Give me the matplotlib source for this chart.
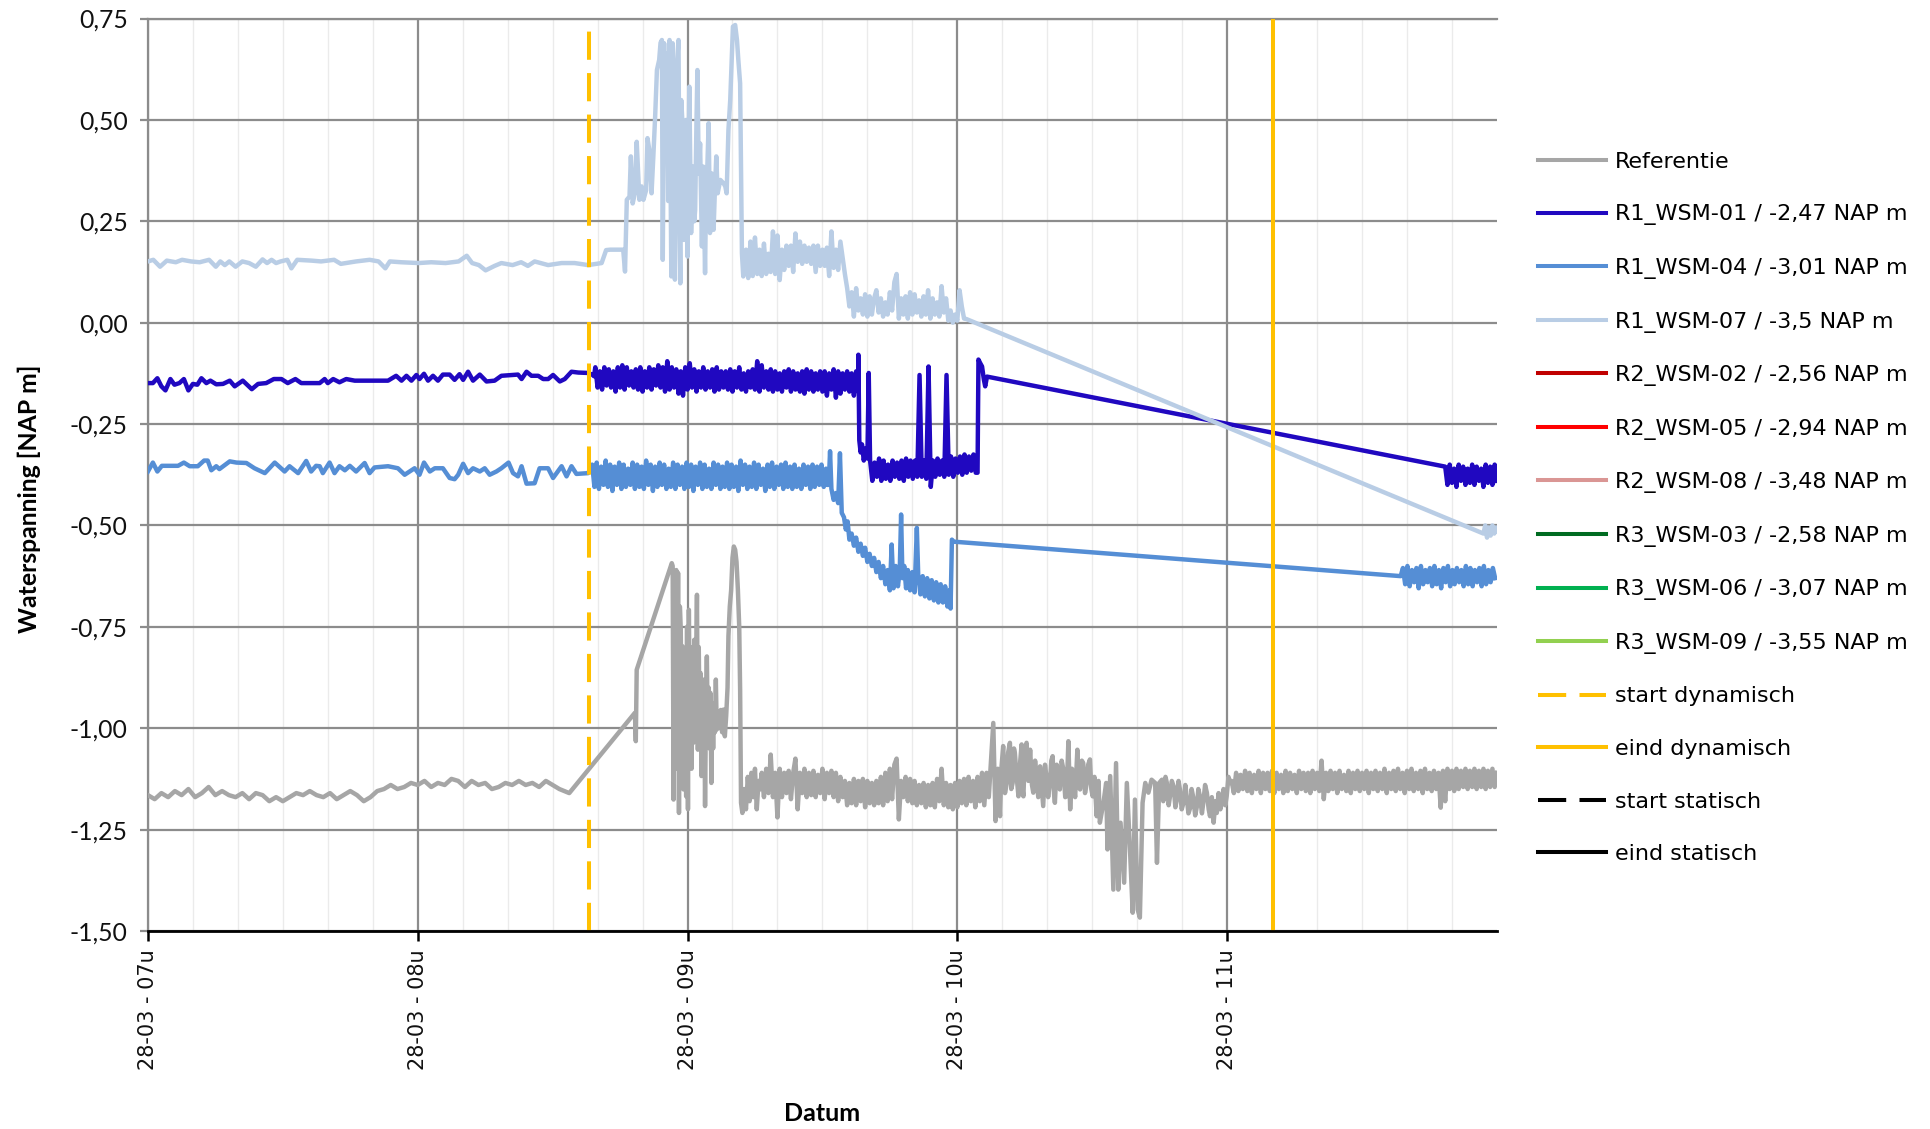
import numpy as np
import matplotlib
matplotlib.use("Agg")
import matplotlib.pyplot as plt
import matplotlib.dates as mdates
from matplotlib.lines import Line2D
from matplotlib.ticker import FixedLocator, FuncFormatter
import datetime as dt

# ---------------- DATA (time in minutes after 28-03 07:00, values in m NAP) ----------------
# Referentie
ref_early = [(0,-1.165),(1.5,-1.175),(3,-1.16),(4.5,-1.17),(6,-1.155),(7.5,-1.165),(9,-1.15),(10.5,-1.17),(12,-1.16),(13.5,-1.145),
             (15,-1.165),(16.5,-1.155),(18,-1.165),(19.5,-1.17),(21,-1.16),(22.5,-1.175),(24,-1.16),(25.5,-1.165),(27,-1.18),(28.5,-1.17),
             (30,-1.18),(31.5,-1.17),(33,-1.16),(34.5,-1.165),(36,-1.155),(37.5,-1.165),(39,-1.17),(40.5,-1.16),(42,-1.175),(43.5,-1.165),
             (45,-1.155),(46.5,-1.165),(48,-1.18),(49.5,-1.17),(51,-1.155),(52.5,-1.15),(54,-1.14),(55.5,-1.15),(57,-1.145),(58.5,-1.135),
             (60,-1.14),(61.5,-1.13),(63,-1.145),(64.5,-1.135),(66,-1.14),(67.5,-1.125),(69,-1.13),(70.5,-1.145),(72,-1.13),(73.5,-1.14),
             (75,-1.135),(76.5,-1.15),(78,-1.145),(79.5,-1.135),(81,-1.14),(82.5,-1.13),(84,-1.14),(85.5,-1.135),(87,-1.145),(88.5,-1.13),
             (90,-1.14),(91.5,-1.15),(93.7,-1.16)]
ref_burst = [(108.3,-0.962),(108.5,-1.032),(108.7,-0.856),(116.5,-0.593),(116.7,-0.60),(116.9,-1.176),(117.1,-0.62),(117.3,-0.95),
             (117.5,-0.61),(117.7,-1.10),(117.9,-0.617),(118.1,-1.209),(118.3,-0.70),(118.5,-0.757),(118.7,-1.05),(118.9,-0.798),
             (119.1,-1.151),(119.3,-0.90),(119.5,-0.823),(119.7,-1.168),(119.9,-0.75),(120.1,-1.20),(120.3,-0.708),(120.5,-0.95),
             (120.7,-0.80),(120.9,-1.10),(121.1,-0.85),(121.3,-1.036),(121.5,-0.782),(121.7,-0.98),(121.9,-0.85),(122.1,-0.671),
             (122.3,-1.053),(122.5,-0.80),(122.7,-1.00),(122.9,-0.864),(123.1,-1.118),(123.3,-0.90),(123.5,-0.98),(123.7,-0.88),
             (123.9,-1.192),(124.1,-0.95),(124.3,-0.823),(124.5,-1.003),(124.7,-0.90),(124.9,-1.05),(125.1,-0.913),(125.3,-1.135),
             (125.5,-0.94),(125.7,-1.05),(125.9,-0.938),(126.1,-1.01),(126.3,-0.880),(126.5,-1.003),(126.8,-0.96),(127.1,-1.00),
             (127.4,-0.955),(127.7,-1.01),(128.0,-0.954),(128.3,-1.020),(128.6,-0.97),(128.9,-0.90),(129.1,-0.773),(129.4,-0.70),
             (129.7,-0.66),(130.0,-0.58),(130.3,-0.552),(130.6,-0.56),(130.9,-0.59),(131.2,-0.658),(131.5,-0.75),(131.7,-0.905),
             (131.9,-1.184),(132.2,-1.209),(132.6,-1.15),(133.0,-1.20),(133.4,-1.12),(133.8,-1.18),(134.2,-1.11),(134.6,-1.17),
             (135.0,-1.10),(135.4,-1.20),(135.8,-1.13),(136.1,-1.151)]
ref_bandA_start = 136.5   # logged every 0.5 min, values in cm
ref_bandA_cm = [-111,-117,-110,-116,-106.5,-117,-111,-122,-110,-117,
                -111,-116,-110.5,-117.5,-111,-107.5,-120,-111,-116,-110,
                -117,-111,-116.5,-110.5,-117,-111.5,-116,-110,-117.5,-111,
                -116,-110.5,-117,-111,-118,-112,-117,-113,-119,-113.5,
                -118.5,-112.5,-119,-113,-118,-112.5,-119.5,-113,-118.5,-113.5,
                -119,-113,-118.5,-112,-119,-111,-118,-110,-117.5,-109,
                -107.5,-122.5,-113,-117,-112,-118,-112.5,-118.5,-113,-119,
                -114,-118.5,-113.5,-119.5,-114,-119,-113.5,-119.5,-112.5,-118,
                -110,-119,-113.5,-119.5,-114,-120,-113.5,-119.5,-113,-118.5,
                -112.5,-119,-112,-118,-113,-119.5,-112,-118,-111,-119,
                -111,-117,-108,-98.7,-122.9,-110]
ref_mid = [(189.5,-1.217),(189.8,-1.10),(190.2,-1.044),(190.6,-1.16),(191.0,-1.135),(191.3,-1.06),(191.7,-1.036),(192.0,-1.15),
           (192.3,-1.135),(192.6,-1.05),(192.8,-1.061),(193.2,-1.12),(193.6,-1.168),(194.0,-1.08),(194.3,-1.040),(194.5,-1.15),
           (194.7,-1.168),(195.0,-1.07),(195.4,-1.036),(195.8,-1.13),(196.2,-1.053),(196.6,-1.14),(196.9,-1.159),(197.3,-1.08),
           (197.7,-1.127),(198.0,-1.17),(198.4,-1.094),(198.8,-1.15),(199.1,-1.192),(199.5,-1.09),(199.9,-1.127),(200.2,-1.17),
           (200.6,-1.135),(200.9,-1.08),(201.2,-1.069),(201.5,-1.16),(201.7,-1.184),(202.1,-1.09),(202.5,-1.118),(202.8,-1.151),
           (203.2,-1.08),(203.6,-1.102),(204.0,-1.17),(204.3,-1.168),(204.7,-1.032),(205.1,-1.200),(205.5,-1.10),(205.8,-1.127),
           (206.2,-1.17),(206.7,-1.053),(207.0,-1.14),(207.3,-1.151),(207.7,-1.08),(208.0,-1.086),(208.4,-1.16),(208.8,-1.135),
           (209.1,-1.09),(209.5,-1.077),(209.8,-1.15),(210.1,-1.168),(210.5,-1.12),(211.0,-1.217),(211.4,-1.13),(211.7,-1.233),
           (212.5,-1.184),(213.1,-1.135),(213.4,-1.299),(214.0,-1.118),(214.7,-1.398),(215.3,-1.086),(215.8,-1.398),(216.3,-1.233),
           (217.1,-1.381),(217.7,-1.135),(218.4,-1.299),(219.0,-1.455),(219.5,-1.176),(220.1,-1.447),(220.6,-1.467),(221.2,-1.184),
           (221.8,-1.135),(222.5,-1.159),(223.2,-1.127),(224.0,-1.135),(224.4,-1.332),(224.9,-1.135),(225.5,-1.127),(225.8,-1.18),
           (226.0,-1.16),(226.3,-1.12),(226.6,-1.135),(227.0,-1.19),(227.3,-1.168),(227.7,-1.13),(228.1,-1.143),(228.5,-1.195),
           (228.8,-1.176),(229.2,-1.13),(229.5,-1.151),(229.9,-1.20),(230.3,-1.184),(230.7,-1.14),(231.0,-1.168),(231.4,-1.21),
           (231.8,-1.196),(232.1,-1.15),(232.5,-1.172),(232.9,-1.215),(233.3,-1.192),(233.6,-1.15),(234.0,-1.170),(234.4,-1.21),
           (234.7,-1.184),(235.1,-1.14),(235.5,-1.159),(235.9,-1.20),(236.2,-1.217),(236.6,-1.17),(237.0,-1.233),(237.4,-1.18),
           (237.7,-1.209),(238.1,-1.16),(238.5,-1.20),(238.8,-1.184),(239.2,-1.15),(239.6,-1.19),(239.9,-1.168),(240.3,-1.12),
           (240.7,-1.135)]
ref_bandC_start = 241.0
ref_bandC_cm = [-113,-116,-111,-115.5,-111.5,-115,-110.5,-115.5,-111,-116,-111.5,-115,-110.5,-116,-111,-115,-111,-115.5,-110.5,-116,
                -111,-115,-111.5,-116,-110.5,-115.5,-111,-115,-111.5,-116,-110.5,-115,-111,-115.5,-111,-116,-110.5,-115,-111,-115.5,
                -108,-117.5,-111,-115.5,-110.5,-115,-111,-116,-110.5,-115,-111.5,-115.5,-110.5,-116,-111,-115,-110.5,-115.5,-111,-115,
                -110.5,-116,-111,-115,-110.5,-115.5,-111,-115,-110,-116,-111,-115,-110.5,-115.5,-110,-115,-111,-116,-110.5,-115,
                -110,-115.5,-111,-115,-110.5,-116,-110,-115,-111,-115.5,-110.5,-115,-111,-119.6,-110.5,-118,-110,-115,-110.5,-115.5,
                -110,-115,-110.5,-114.5,-110,-115,-110.5,-114.5,-110,-115,-110.5,-114.5,-110,-115,-110.5,-114.5,-110,-114.5,-111]

# R1_WSM-01
w01_early = [(0,-0.149),(1.1,-0.149),(2.1,-0.137),(3.0,-0.157),(3.9,-0.167),(5.0,-0.139),(5.9,-0.153),(7.0,-0.149),(8.0,-0.139),
             (9.0,-0.167),(10.0,-0.151),(11.0,-0.153),(11.9,-0.137),(13.0,-0.149),(13.9,-0.143),(15.2,-0.152),(16.7,-0.151),
             (18.2,-0.143),(19.3,-0.157),(21.1,-0.143),(23.1,-0.164),(24.5,-0.151),(26.3,-0.149),(28.0,-0.139),(29.7,-0.139),
             (31.1,-0.149),(32.8,-0.139),(34.1,-0.149),(38.2,-0.149),(39.3,-0.139),(40.0,-0.149),(41.2,-0.139),(42.6,-0.147),
             (44.1,-0.139),(46.0,-0.143),(53.4,-0.143),(55.2,-0.131),(56.4,-0.143),(57.5,-0.131),(58.6,-0.143),(59.7,-0.129),
             (60.4,-0.139),(61.4,-0.126),(62.3,-0.143),(63.4,-0.131),(64.5,-0.143),(65.6,-0.128),(67.1,-0.128),(68.2,-0.141),
             (69.3,-0.127),(70.1,-0.141),(71.2,-0.121),(72.3,-0.143),(73.8,-0.128),(75.3,-0.145),(77.1,-0.143),(78.6,-0.131),
             (82.3,-0.128),(83.1,-0.139),(84.2,-0.121),(85.3,-0.131),(86.8,-0.131),(87.9,-0.139),(89.0,-0.139),(90.1,-0.129),
             (91.6,-0.145),(92.7,-0.139),(94.2,-0.121),(95.7,-0.123),(97.9,-0.124),(98.8,-0.128),(99.2,-0.132)]
w01_band1_start = 99.5
w01_band1_cm = [-11,-16,-12,-16.5,-11,-15.5,-11.5,-16,-12,-17,-11,-16,-10.5,-16.5,-11,-15.5,-12,-16,-11.5,-16.5,
                -11,-17,-12,-16,-11,-16.5,-11.5,-15.5,-10.5,-16,-11,-17,-9.5,-16.5,-11,-16,-11.5,-17.5,-12,-18,
                -11,-16.5,-10,-16,-11.5,-17,-12,-16,-11,-16.5,-12,-16,-11.5,-17,-11,-16.5,-12,-16,-12,-16.5,
                -11.5,-17,-12,-16,-11,-16.5,-12.5,-17,-12,-16,-11.5,-16.5,-9.5,-17,-10.5,-16,-12,-16.5,-11.5,-17,
                -12,-16.5,-12.5,-17,-12,-16,-11.5,-17,-12,-16.5,-12.5,-17,-12,-17.5,-11.5,-16.5,-12,-17,-12.5,-16.5,
                -12,-17,-12,-18,-12.5,-16.5,-11.5,-18.5,-12,-17.5,-12.5,-16.5,-12,-17,-12.5,-18,-12,-17]
w01_drop = [(158.0,-0.079),(158.2,-0.29),(158.5,-0.32),(158.8,-0.30),(159.2,-0.34),(159.6,-0.31),(160.0,-0.335),(160.3,-0.124)]
w01_band2_start = 160.6
w01_band2_cm = [-34,-39,-34.5,-38,-33.5,-39,-34,-38.5,-35,-39,-34,-38,-34.5,-38.5,-34,-39,-33.5,-38,-34,-38.5,
                -34,-38,-12.9,-38,-34,-38.5,-10.8,-40.5,-34,-38,-33.5,-37.5,-34,-38,-12.9,-37.5,-33,-38,-33.5,-37,
                -33,-37.5,-32.5,-37,-33,-36.5,-32.5,-37]
w01_jump = [(184.5,-0.37),(184.7,-0.091),(185.1,-0.10),(185.5,-0.108),(185.9,-0.14),(186.2,-0.157),(186.6,-0.133)]
w01_end_start = 288.5
w01_end_cm = [-35.5,-40,-35,-39.5,-36,-40.5,-35,-39,-35.5,-40,-36,-39.5,-35,-40,-35.5,-39,-36,-40.5,-35,-39.5,-35.5,-40,-35,-39]

# R1_WSM-04
w04_early = [(0,-0.367),(1.1,-0.345),(2.1,-0.367),(3.1,-0.353),(6.7,-0.353),(8.0,-0.345),(9.3,-0.354),(11.1,-0.354),(12.5,-0.340),
             (13.3,-0.340),(14.1,-0.364),(15.2,-0.354),(15.9,-0.361),(18.2,-0.342),(19.7,-0.345),(21.9,-0.346),(23.7,-0.359),
             (26.0,-0.371),(28.2,-0.345),(30.4,-0.367),(31.5,-0.354),(33.4,-0.371),(35.2,-0.341),(36.3,-0.367),(37.4,-0.353),
             (38.2,-0.354),(38.9,-0.371),(40.4,-0.345),(41.5,-0.371),(42.6,-0.354),(43.8,-0.364),(44.9,-0.353),(46.3,-0.367),
             (48.2,-0.346),(49.3,-0.371),(50.4,-0.357),(53.4,-0.354),(55.6,-0.359),(57.1,-0.375),(58.6,-0.364),(59.3,-0.359),
             (60.4,-0.375),(61.4,-0.345),(62.7,-0.367),(63.8,-0.359),(65.6,-0.359),(67.1,-0.383),(68.2,-0.386),(69.0,-0.375),
             (70.1,-0.348),(71.2,-0.371),(72.3,-0.359),(73.8,-0.367),(74.9,-0.359),(76.0,-0.375),(77.5,-0.367),(78.6,-0.359),
             (80.2,-0.345),(81.2,-0.371),(82.3,-0.379),(83.1,-0.354),(84.2,-0.397),(86.0,-0.396),(87.1,-0.359),(89.0,-0.359),
             (90.1,-0.383),(92.0,-0.354),(93.1,-0.379),(94.2,-0.354),(95.3,-0.373),(97.9,-0.371)]
w04_band1_start = 98.8
w04_band1_cm = [-35,-40.5,-34.5,-41,-35.5,-40,-34,-40.5,-35,-41.5,-35.5,-40,-34.5,-41,-35,-40.5,-36,-40,-34.5,-41,
                -35,-40.5,-35.5,-41,-34,-40,-35,-41.5,-35.5,-40.5,-34.5,-40,-35,-41,-36,-40.5,-34.5,-41,-35,-40,
                -35.5,-41,-34.5,-40.5,-35,-41.5,-35.5,-40,-34.5,-41,-35,-40.5,-36,-41,-34.5,-40,-35,-41,-35.5,-40.5,
                -34.5,-41,-35,-40.5,-35.5,-41.5,-34,-40,-35,-41,-35.5,-40.5,-34.5,-41,-35,-40,-36,-41.5,-35,-40.5,
                -34.5,-41,-35.5,-40,-35,-41,-34.5,-40.5,-35.5,-41,-35,-40.5,-36,-41,-35,-40,-35.5,-41,-35,-40.5,
                -35.5,-40,-35,-40.5,-36]
w04_decline = [(151.0,-0.40),(151.4,-0.40),(151.7,-0.317),(152.0,-0.41),(152.5,-0.437),(153.0,-0.42),(153.5,-0.445),(153.9,-0.322),
               (154.3,-0.469),(154.8,-0.48),(155.2,-0.51),(155.6,-0.49),(156.0,-0.535),(156.5,-0.52),(157.0,-0.55),(157.5,-0.53),
               (158.0,-0.565),(158.5,-0.545),(159.0,-0.575),(159.5,-0.555),(160.0,-0.59),(160.5,-0.57),(161.0,-0.60),(161.5,-0.58),
               (162.0,-0.615),(162.5,-0.59),(163.0,-0.63),(163.5,-0.60),(164.0,-0.645),(164.5,-0.61),(165.0,-0.66),(165.4,-0.547),
               (165.8,-0.655),(166.3,-0.60),(166.8,-0.65),(167.2,-0.61),(167.5,-0.473),(167.8,-0.63),(168.2,-0.60),(168.6,-0.655),
               (169.0,-0.61),(169.5,-0.66),(170.0,-0.615),(170.5,-0.665),(171.0,-0.506),(171.3,-0.62),(171.8,-0.67),(172.3,-0.625),
               (172.8,-0.675),(173.3,-0.63),(173.8,-0.68),(174.3,-0.635),(174.8,-0.685),(175.3,-0.64),(175.8,-0.69),(176.3,-0.645),
               (176.8,-0.69),(177.3,-0.65),(177.8,-0.70),(178.2,-0.66),(178.5,-0.705),(178.8,-0.535),(179.2,-0.54)]
w04_end_start = 278.6
w04_end_cm = [-62.5,-60.5,-64.5,-60,-65,-61,-64,-60.5,-65.5,-60,-64.5,-61,-64,-60.5,-65,-60,-64.5,-61,-65.5,-60.5,
              -64,-60,-65,-61,-64.5,-60.5,-64,-61,-65,-60,-64.5,-60.5,-65,-61,-64,-60.5,-65,-60,-64.5,-61,-64,-60.5,-63]

# R1_WSM-07
w07_early = [(0,0.151),(1.2,0.155),(2.7,0.138),(4.2,0.153),(6.2,0.149),(7.6,0.155),(9.6,0.151),(11.5,0.149),(13.6,0.155),(15.1,0.138),
             (16.1,0.151),(17.1,0.142),(18.1,0.151),(19.5,0.138),(21.0,0.151),(22.5,0.147),(24.0,0.138),(25.5,0.156),(26.5,0.147),
             (27.5,0.155),(28.5,0.147),(29.5,0.151),(31.0,0.155),(31.9,0.134),(33.2,0.155),(36.4,0.153),(38.5,0.151),(41.4,0.155),
             (42.9,0.145),(46.3,0.151),(49.3,0.155),(51.3,0.151),(52.8,0.134),(53.8,0.151),(56.3,0.149),(60.2,0.147),(63.0,0.149),
             (66.2,0.147),(69.1,0.151),(70.9,0.165),(72.1,0.147),(73.6,0.142),(75.1,0.129),(77.1,0.140),(78.6,0.147),(81.1,0.142),
             (83.0,0.149),(84.5,0.140),(86.0,0.151),(89.0,0.142),(92.0,0.147),(94.9,0.147),(97.9,0.142),(100.9,0.147),(101.9,0.179)]
w07_burst = [(102.8,0.180),(105.7,0.180),(106.1,0.126),(106.5,0.303),(107.1,0.311),(107.4,0.410),(107.8,0.294),(108.3,0.319),
             (108.7,0.446),(109.3,0.303),(109.8,0.336),(110.2,0.303),(110.8,0.327),(111.1,0.455),(111.5,0.426),(112.0,0.319),
             (112.4,0.410),(112.8,0.508),(113.2,0.623),(113.7,0.648),(114.0,0.690),(114.3,0.697),(114.5,0.155),(114.8,0.689),
             (115.1,0.40),(115.4,0.664),(115.7,0.30),(116.0,0.697),(116.4,0.114),(116.7,0.689),(117.0,0.25),(117.2,0.106),
             (117.6,0.631),(118.0,0.697),(118.2,0.30),(118.4,0.097),(118.6,0.549),(119.0,0.467),(119.2,0.204),(119.5,0.45),
             (119.7,0.500),(120.0,0.163),(120.4,0.582),(120.8,0.221),(121.2,0.385),(121.5,0.25),(121.7,0.278),(122.0,0.50),
             (122.2,0.623),(122.5,0.368),(122.8,0.442),(123.2,0.188),(123.5,0.385),(123.9,0.122),(124.1,0.30),(124.3,0.344),
             (124.7,0.492),(125.0,0.221),(125.4,0.368),(125.8,0.229),(126.1,0.33),(126.4,0.410),(126.7,0.319),(127.3,0.352),
             (128.0,0.344),(128.4,0.336),(128.7,0.319),(129.1,0.475),(129.5,0.549),(130.1,0.730),(130.6,0.734),(131.0,0.697),
             (131.3,0.648),(131.7,0.590),(132.1,0.171),(132.4,0.114)]
w07_band_start = 133.0    # logged every 0.5 min, values in cm
w07_band_cm = [18,11,20,11.5,21,12,18,11.5,19.5,12,17,12.5,22.5,12,21.5,10.5,18,13,19,14,
               19,12.5,22,15,20,14.5,19,15,18.5,14.5,19,12.5,19,14,18,14,18.5,11.5,22.5,13.5,
               18,13,20,16,12,8.5,4,7.5,1.5,8.5,3,6,2,7,1.5,6.5,2,6,8,2.5,
               6,1.5,5,2,7.5,3,10,12,1,6,2,6.5,1,7.5,2,7,2.5,5.5,1.5,6.5,
               2,8,1,6,2,5,1.5,9,2.5,6,0.5,3,0,2,0.5,8,4,1,0.9]
w07_end = [(297.0,-0.52),(297.4,-0.50),(297.8,-0.53),(298.2,-0.505),(298.6,-0.525),(299.0,-0.50),(299.4,-0.52),(299.8,-0.505),(300.0,-0.515)]

# event times (minutes after 07:00)
start_dynamisch = 98.0
eind_dynamisch = 250.2

labels = ["Referentie", "R1_WSM-01 / -2,47 NAP m", "R1_WSM-04 / -3,01 NAP m", "R1_WSM-07 / -3,5 NAP m",
          "R2_WSM-02 / -2,56 NAP m", "R2_WSM-05 / -2,94 NAP m", "R2_WSM-08 / -3,48 NAP m",
          "R3_WSM-03 / -2,58 NAP m", "R3_WSM-06 / -3,07 NAP m", "R3_WSM-09 / -3,55 NAP m",
          "start dynamisch", "eind dynamisch", "start statisch", "eind statisch"]
colors = ["#A6A6A6", "#2008C0", "#558ED5", "#B9CDE5", "#C00000", "#FF0000", "#DA9694",
          "#006B21", "#00B050", "#92D050", "#FFC000", "#FFC000", "#000000", "#000000"]

# ---------------- helpers ----------------
BASE = mdates.date2num(dt.datetime(2023, 3, 28, 7, 0))


def pairs(p):
    t, v = zip(*p)
    return list(t), list(v)


def band(start, cm, step=0.5):
    t = [start + step * i for i in range(len(cm))]
    return t, [c / 100.0 for c in cm]


def build(*parts):
    T, V = [], []
    for t, v in parts:
        T += t
        V += v
    return BASE + np.array(T) / 1440.0, np.array(V)


ref_x, ref_y = build(pairs(ref_early), pairs(ref_burst), band(ref_bandA_start, ref_bandA_cm),
                     pairs(ref_mid), band(ref_bandC_start, ref_bandC_cm))
w01_x, w01_y = build(pairs(w01_early), band(w01_band1_start, w01_band1_cm), pairs(w01_drop),
                     band(w01_band2_start, w01_band2_cm), pairs(w01_jump), band(w01_end_start, w01_end_cm))
w04_x, w04_y = build(pairs(w04_early), band(w04_band1_start, w04_band1_cm), pairs(w04_decline),
                     band(w04_end_start, w04_end_cm))
w07_x, w07_y = build(pairs(w07_early), pairs(w07_burst), band(w07_band_start, w07_band_cm), pairs(w07_end))

# ---------------- figure ----------------
fig = plt.figure(figsize=(19.31, 11.29), dpi=100)
ax = fig.add_axes([0.0766, 0.1754, 0.6986, 0.8082])

LW = 3.2
series = [(ref_x, ref_y), (w01_x, w01_y), (w04_x, w04_y), (w07_x, w07_y)]
for i, (x, y) in enumerate(series):
    ax.plot(x, y, color=colors[i], lw=LW, zorder=3 + i, solid_joinstyle="round")

ax.axvline(BASE + start_dynamisch / 1440.0, color=colors[10], lw=2.9, dashes=(7, 3.3), zorder=10)
ax.axvline(BASE + eind_dynamisch / 1440.0, color=colors[11], lw=2.9, zorder=10)

ax.set_xlim(BASE, BASE + 300 / 1440.0)
ax.set_ylim(-1.5, 0.75)

major_x = [BASE + h / 24.0 for h in range(0, 5)]
minor_x = [BASE + m / 1440.0 for m in range(10, 300, 10) if m % 60 != 0]
ax.xaxis.set_major_locator(FixedLocator(major_x))
ax.xaxis.set_minor_locator(FixedLocator(minor_x))
ax.xaxis.set_major_formatter(mdates.DateFormatter("%d-%m - %Hu"))

ax.yaxis.set_major_locator(FixedLocator(np.arange(-1.5, 0.76, 0.25)))
ax.yaxis.set_major_formatter(FuncFormatter(lambda v, p: f"{v + 0.0:.2f}".replace("-0.00", "0.00").replace(".", ",")))

ax.set_axisbelow(True)
ax.grid(which="major", axis="both", color="#8C8C8C", lw=1.6)
ax.grid(which="minor", axis="x", color="#EBEBEB", lw=1.0)

ax.spines["right"].set_visible(False)
ax.spines["top"].set_color("#8C8C8C")
ax.spines["top"].set_linewidth(1.6)
ax.spines["left"].set_color("#8C8C8C")
ax.spines["left"].set_linewidth(1.6)
ax.spines["bottom"].set_color("black")
ax.spines["bottom"].set_linewidth(2.0)
ax.spines["bottom"].set_zorder(12)

ax.tick_params(axis="y", which="major", length=5.5, width=1.6, color="#8C8C8C", labelsize=17.8,
               pad=9, labelfontfamily="Lato", labelcolor="#111111")
ax.tick_params(axis="x", which="major", length=7, width=1.8, color="black", labelsize=15,
               labelrotation=90, pad=6, labelfontfamily="DejaVu Sans", labelcolor="#111111")
ax.tick_params(axis="x", which="minor", length=0)

ax.set_ylabel("Waterspanning [NAP m]", fontsize=17.8, fontweight="bold", family="Lato")
ax.yaxis.set_label_coords(-0.079, 0.4737)
ax.set_xlabel("Datum", fontsize=18, fontweight="bold", family="Lato", va="top")
ax.xaxis.set_label_coords(0.5, -0.1875)

handles = []
for i, lab in enumerate(labels):
    if lab == "start dynamisch" or lab == "start statisch":
        h = Line2D([], [], color=colors[i], lw=2.9, dashes=(7, 3.3))
    else:
        h = Line2D([], [], color=colors[i], lw=2.9)
    handles.append(h)

leg = fig.legend(handles, labels, loc="upper left", bbox_to_anchor=(0.7965, 0.8655),
                 bbox_transform=fig.transFigure, frameon=False,
                 handlelength=3.05, handletextpad=0.4, labelspacing=1.465,
                 borderpad=0, borderaxespad=0, prop={"family": "DejaVu Sans", "size": 16})

fig.savefig("out.png", dpi=100)
